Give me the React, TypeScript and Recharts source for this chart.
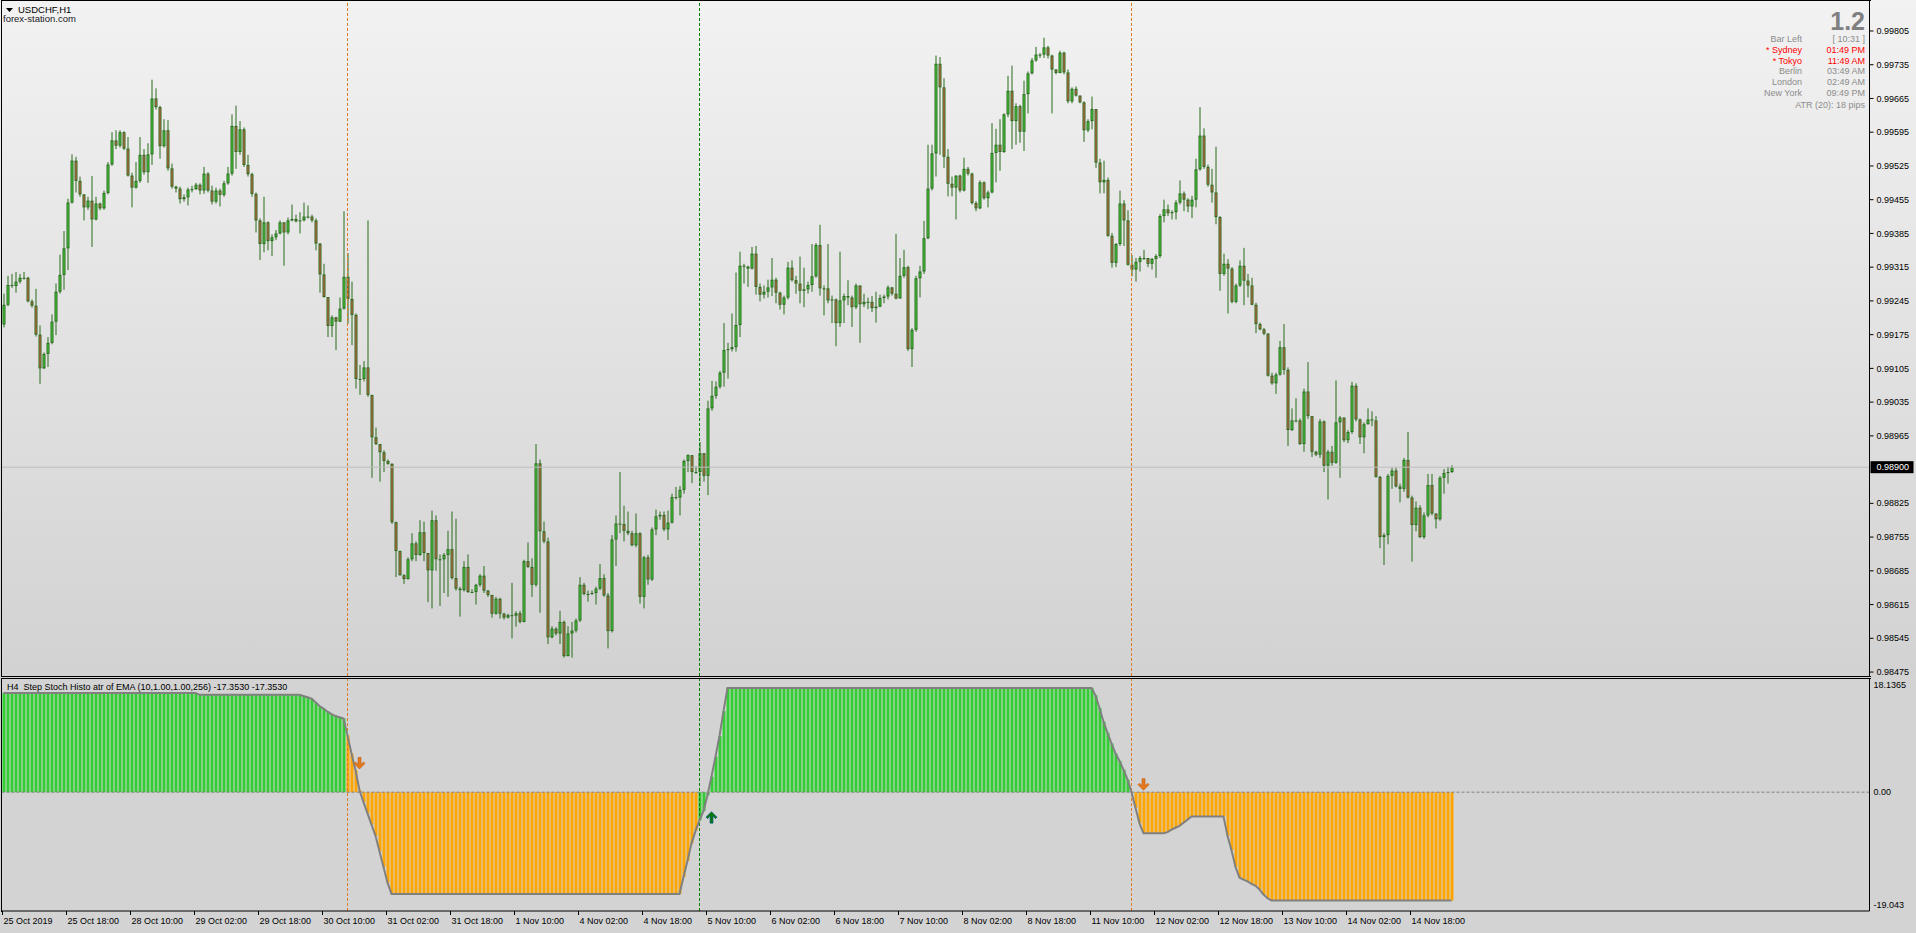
import React from 'react';
import { ComposedChart, Bar, Line, XAxis, YAxis, ReferenceLine, ReferenceDot } from 'recharts';

// USDCHF H1, prices in points (0.99237 -> 99237); open of a bar = previous close
const OPEN_FIRST = 99196;
const CLOSE = [
  99237, 99278, 99276, 99285, 99293, 99293, 99244, 99235, 99175, 99105,
  99135, 99158, 99202, 99264, 99299, 99354, 99449, 99536, 99494, 99466,
  99439, 99453, 99414, 99447, 99437, 99469, 99528, 99578, 99567, 99595,
  99561, 99505, 99480, 99494, 99548, 99512, 99549, 99665, 99647, 99566,
  99599, 99520, 99482, 99478, 99456, 99460, 99476, 99477, 99486, 99474,
  99509, 99474, 99451, 99474, 99465, 99489, 99509, 99608, 99554, 99601,
  99527, 99508, 99467, 99412, 99363, 99408, 99369, 99377, 99385, 99408,
  99387, 99412, 99415, 99410, 99412, 99420, 99420, 99412, 99364, 99300,
  99253, 99193, 99211, 99202, 99229, 99295, 99249, 99216, 99083, 99083,
  99107, 99050, 98962, 98948, 98931, 98913, 98907, 98786, 98726, 98676,
  98668, 98709, 98742, 98718, 98765, 98722, 98686, 98790, 98709, 98709,
  98718, 98730, 98670, 98648, 98645, 98693, 98641, 98641, 98656, 98675,
  98644, 98635, 98596, 98627, 98596, 98588, 98593, 98592, 98597, 98579,
  98705, 98693, 98656, 98908, 98767, 98746, 98547, 98565, 98555, 98579,
  98508, 98555, 98561, 98582, 98656, 98637, 98637, 98639, 98648, 98670,
  98634, 98560, 98750, 98783, 98782, 98768, 98763, 98738, 98763, 98631,
  98713, 98667, 98771, 98798, 98801, 98771, 98785, 98838, 98837, 98853,
  98913, 98925, 98890, 98890, 98929, 98882, 99022, 99048, 99067, 99096,
  99143, 99145, 99149, 99195, 99318, 99316, 99312, 99343, 99274, 99258,
  99264, 99273, 99289, 99262, 99237, 99252, 99314, 99288, 99281, 99266,
  99269, 99278, 99296, 99361, 99271, 99271, 99246, 99248, 99199, 99246,
  99255, 99252, 99232, 99277, 99238, 99243, 99243, 99230, 99233, 99251,
  99254, 99273, 99260, 99250, 99297, 99315, 99145, 99185, 99292, 99306,
  99375, 99478, 99551, 99737, 99688, 99544, 99488, 99480, 99505, 99474,
  99519, 99509, 99448, 99437, 99491, 99458, 99470, 99552, 99569, 99554,
  99632, 99681, 99618, 99649, 99596, 99674, 99717, 99744, 99756, 99756,
  99771, 99754, 99725, 99718, 99760, 99719, 99659, 99685, 99671, 99657,
  99599, 99618, 99643, 99532, 99491, 99496, 99380, 99324, 99363, 99447,
  99412, 99320, 99310, 99326, 99334, 99334, 99322, 99332, 99338, 99421,
  99435, 99427, 99429, 99449, 99468, 99455, 99441, 99455, 99518, 99588,
  99523, 99486, 99470, 99419, 99301, 99322, 99312, 99243, 99277, 99318,
  99287, 99277, 99237, 99197, 99186, 99177, 99090, 99074, 99092, 99149,
  99102, 98977, 98997, 98997, 98948, 99057, 99006, 98932, 98926, 98995,
  98903, 98932, 98909, 98993, 99003, 98956, 98973, 99069, 98999, 98962,
  98989, 98999, 98997, 98880, 98755, 98759, 98882, 98893, 98860, 98855,
  98915, 98837, 98780, 98816, 98755, 98800, 98863, 98804, 98792, 98878,
  98888, 98890, 98900,
];
const HIGH = [
  99260, 99297, 99301, 99305, 99301, 99305, 99295, 99248, 99270, 99194,
  99138, 99170, 99217, 99281, 99341, 99390, 99457, 99549, 99544, 99503,
  99466, 99461, 99504, 99461, 99449, 99474, 99533, 99595, 99599, 99599,
  99597, 99585, 99511, 99533, 99585, 99560, 99572, 99704, 99686, 99650,
  99622, 99620, 99530, 99484, 99482, 99466, 99480, 99484, 99490, 99489,
  99523, 99512, 99484, 99480, 99478, 99494, 99523, 99632, 99650, 99618,
  99605, 99548, 99511, 99470, 99416, 99461, 99410, 99383, 99392, 99412,
  99392, 99418, 99445, 99424, 99429, 99449, 99443, 99424, 99416, 99365,
  99322, 99252, 99215, 99212, 99252, 99431, 99344, 99285, 99219, 99112,
  99120, 99412, 99050, 98982, 98935, 98935, 98916, 98908, 98787, 98727,
  98678, 98713, 98763, 98746, 98790, 98787, 98722, 98810, 98800, 98719,
  98722, 98768, 98808, 98793, 98652, 98705, 98719, 98647, 98658, 98678,
  98695, 98645, 98635, 98631, 98629, 98598, 98596, 98660, 98601, 98602,
  98708, 98744, 98711, 98948, 98916, 98787, 98754, 98570, 98568, 98602,
  98582, 98570, 98579, 98586, 98672, 98660, 98644, 98644, 98652, 98699,
  98678, 98639, 98759, 98800, 98890, 98820, 98808, 98768, 98804, 98765,
  98716, 98718, 98775, 98812, 98808, 98808, 98810, 98845, 98859, 98861,
  98916, 98927, 98925, 98902, 98952, 98929, 99038, 99079, 99078, 99100,
  99199, 99158, 99219, 99304, 99347, 99322, 99318, 99357, 99359, 99281,
  99277, 99289, 99334, 99293, 99264, 99256, 99326, 99329, 99297, 99337,
  99314, 99285, 99363, 99365, 99403, 99277, 99363, 99256, 99250, 99347,
  99260, 99288, 99256, 99281, 99277, 99260, 99252, 99255, 99264, 99258,
  99258, 99277, 99274, 99384, 99334, 99351, 99318, 99189, 99297, 99318,
  99411, 99569, 99569, 99754, 99751, 99707, 99560, 99503, 99505, 99507,
  99542, 99523, 99511, 99452, 99495, 99493, 99474, 99614, 99602, 99622,
  99634, 99712, 99733, 99655, 99652, 99702, 99721, 99749, 99772, 99759,
  99791, 99774, 99756, 99726, 99764, 99762, 99725, 99688, 99690, 99671,
  99659, 99622, 99669, 99643, 99540, 99536, 99501, 99386, 99365, 99474,
  99454, 99433, 99340, 99334, 99338, 99351, 99334, 99334, 99342, 99425,
  99455, 99445, 99433, 99454, 99495, 99472, 99458, 99463, 99540, 99647,
  99603, 99528, 99519, 99565, 99421, 99343, 99332, 99315, 99281, 99329,
  99355, 99301, 99293, 99241, 99200, 99189, 99178, 99096, 99096, 99162,
  99197, 99107, 99022, 99043, 99001, 99063, 99118, 99006, 98934, 99000,
  98997, 98936, 98944, 99080, 99006, 98973, 98977, 99077, 99074, 99001,
  98993, 99022, 99016, 99006, 98882, 98763, 98886, 98899, 98899, 98866,
  98919, 98973, 98841, 98829, 98821, 98806, 98886, 98886, 98794, 98882,
  98896, 98901, 98904,
];
const LOW = [
  99190, 99234, 99272, 99262, 99281, 99289, 99242, 99231, 99171, 99073,
  99104, 99108, 99155, 99174, 99260, 99268, 99309, 99447, 99470, 99461,
  99412, 99434, 99357, 99412, 99433, 99434, 99466, 99525, 99560, 99563,
  99558, 99503, 99439, 99478, 99490, 99507, 99490, 99527, 99642, 99540,
  99563, 99515, 99478, 99470, 99447, 99451, 99443, 99470, 99475, 99466,
  99467, 99470, 99445, 99447, 99441, 99461, 99486, 99505, 99519, 99548,
  99523, 99503, 99461, 99387, 99330, 99346, 99350, 99338, 99371, 99383,
  99318, 99383, 99410, 99408, 99385, 99410, 99416, 99408, 99350, 99262,
  99252, 99170, 99170, 99143, 99201, 99227, 99198, 99153, 99063, 99050,
  99078, 99046, 98878, 98946, 98870, 98890, 98905, 98782, 98672, 98675,
  98658, 98667, 98705, 98705, 98716, 98705, 98620, 98607, 98685, 98612,
  98639, 98631, 98667, 98644, 98590, 98642, 98639, 98639, 98615, 98652,
  98639, 98631, 98588, 98594, 98586, 98584, 98586, 98545, 98569, 98576,
  98578, 98691, 98631, 98652, 98598, 98742, 98533, 98545, 98551, 98533,
  98505, 98508, 98505, 98557, 98579, 98634, 98621, 98635, 98615, 98645,
  98631, 98524, 98557, 98695, 98763, 98746, 98759, 98736, 98734, 98617,
  98607, 98656, 98664, 98759, 98791, 98767, 98749, 98783, 98833, 98800,
  98845, 98890, 98867, 98886, 98861, 98870, 98842, 99017, 99042, 99063,
  99067, 99084, 99140, 99140, 99170, 99281, 99274, 99310, 99258, 99244,
  99250, 99252, 99255, 99240, 99227, 99217, 99248, 99285, 99260, 99240,
  99232, 99260, 99264, 99293, 99256, 99215, 99240, 99199, 99151, 99191,
  99199, 99236, 99191, 99228, 99158, 99232, 99228, 99222, 99200, 99232,
  99240, 99248, 99256, 99248, 99256, 99293, 99141, 99108, 99181, 99252,
  99301, 99373, 99474, 99503, 99548, 99521, 99462, 99462, 99414, 99470,
  99472, 99505, 99445, 99431, 99435, 99455, 99439, 99468, 99491, 99515,
  99552, 99626, 99560, 99569, 99573, 99556, 99634, 99715, 99741, 99749,
  99749, 99748, 99634, 99715, 99717, 99715, 99655, 99655, 99669, 99655,
  99575, 99595, 99601, 99521, 99468, 99468, 99378, 99314, 99315, 99359,
  99359, 99318, 99296, 99285, 99306, 99330, 99315, 99310, 99293, 99334,
  99408, 99421, 99414, 99414, 99445, 99431, 99429, 99417, 99439, 99515,
  99519, 99482, 99449, 99404, 99266, 99297, 99219, 99240, 99240, 99274,
  99236, 99252, 99236, 99178, 99184, 99174, 99088, 99071, 99052, 99090,
  99092, 98944, 98975, 98993, 98946, 98932, 99000, 98921, 98923, 98919,
  98890, 98833, 98903, 98907, 98878, 98952, 98950, 98969, 98995, 98948,
  98929, 98989, 98985, 98878, 98732, 98697, 98740, 98855, 98858, 98827,
  98849, 98835, 98704, 98767, 98753, 98751, 98796, 98800, 98773, 98789,
  98845, 98866, 98888,
];

// Step Stoch histogram: [value, number of bars]
const IND_RUNS: [number, number][] = [
  [15.9, 49], [15.6, 26],
  [15.4, 1], [15.2, 1], [15.0, 1], [14.4, 1], [13.8, 1], [13.4, 1], [12.9, 1], [12.5, 1], [12.2, 1], [12.0, 1], [11.8, 1],
  [9.1, 1], [6.2, 1], [3.5, 1], [0.3, 1], [-1.6, 1], [-3.4, 1], [-5.2, 1], [-7.0, 1], [-9.5, 1], [-12.0, 1], [-14.5, 1],
  [-16.3, 73],
  [-13.6, 1], [-11.0, 1], [-8.2, 1], [-6.2, 1], [-4.5, 1], [-3.0, 1], [-0.5, 1], [2.5, 1], [5.7, 1], [9.0, 1], [13.0, 1],
  [16.7, 92],
  [15.5, 1], [13.5, 1], [11.3, 1], [9.5, 1], [7.8, 1], [6.2, 1], [5.0, 1], [3.6, 1], [2.0, 1], [0.0, 1], [-2.5, 1], [-5.0, 1],
  [-6.6, 6],
  [-6.4, 1], [-6.0, 1], [-5.7, 1], [-5.4, 1], [-4.9, 1], [-4.4, 1],
  [-3.9, 9],
  [-7.0, 1], [-9.3, 1], [-12.0, 1], [-13.7, 1], [-14.0, 1], [-14.3, 1], [-14.7, 1], [-15.0, 1], [-15.6, 1], [-16.4, 1], [-17.0, 1],
  [-17.353, 46],
];
// trend state (true = up / green), [state, number of bars]
const TREND_RUNS: [boolean, number][] = [[true, 86], [false, 88], [true, 108], [false, 81]];
const SIGNALS = [
  { i: 89, v: 4.6, up: false },
  { i: 177, v: -4.0, up: true },
  { i: 285, v: 1.2, up: false },
];
const SIGNAL_LINES = [
  { i: 86, color: '#E07B1F' },
  { i: 174, color: '#008000' },
  { i: 282, color: '#E07B1F' },
];

const PRICE_TICKS = [
  0.99805, 0.99735, 0.99665, 0.99595, 0.99525, 0.99455, 0.99385, 0.99315, 0.99245, 0.99175,
  0.99105, 0.99035, 0.98965, 0.98825, 0.98755, 0.98685, 0.98615, 0.98545, 0.98475,
];
const BID = 0.989;
const IND_MAX = 18.1365;
const IND_MIN = -19.043;
const TIME_LABELS = [
  '25 Oct 2019', '25 Oct 18:00', '28 Oct 10:00', '29 Oct 02:00', '29 Oct 18:00', '30 Oct 10:00',
  '31 Oct 02:00', '31 Oct 18:00', '1 Nov 10:00', '4 Nov 02:00', '4 Nov 18:00', '5 Nov 10:00',
  '6 Nov 02:00', '6 Nov 18:00', '7 Nov 10:00', '8 Nov 02:00', '8 Nov 18:00', '11 Nov 10:00',
  '12 Nov 02:00', '12 Nov 18:00', '13 Nov 10:00', '14 Nov 02:00', '14 Nov 18:00',
];
const BARS_PER_LABEL = 16;
const SESSIONS = [
  { name: 'Bar Left', time: '[ 10:31 ]', color: '#8C8C8C' },
  { name: '* Sydney', time: '01:49 PM', color: '#FF0000' },
  { name: '* Tokyo', time: '11:49 AM', color: '#FF0000' },
  { name: 'Berlin', time: '03:49 AM', color: '#8C8C8C' },
  { name: 'London', time: '02:49 AM', color: '#8C8C8C' },
  { name: 'New York', time: '09:49 PM', color: '#8C8C8C' },
];

const SLOTS = 467; // chart keeps empty space on the right
const FONT = '"Liberation Sans", Arial, sans-serif';
const WICK = '#2A6A1E';
const BULL = '#44D63C';
const BEAR = '#E0654A';
const W = 1916;
const AXIS_W = 46.5;

const indVals: number[] = [];
IND_RUNS.forEach(([v, n]) => { for (let k = 0; k < n; k++) indVals.push(v); });
const trendUp: boolean[] = [];
TREND_RUNS.forEach(([u, n]) => { for (let k = 0; k < n; k++) trendUp.push(u); });
const TIME_TICKS = TIME_LABELS.map((_, k) => k * BARS_PER_LABEL);

const rows = Array.from({ length: SLOTS }, (_, i) => {
  if (i >= CLOSE.length) return { idx: i, rng: null, v: null };
  const o = (i === 0 ? OPEN_FIRST : CLOSE[i - 1]) / 1e5;
  const c = CLOSE[i] / 1e5;
  const h = Math.max(HIGH[i] / 1e5, o, c);
  const l = Math.min(LOW[i] / 1e5, o, c);
  return { idx: i, o, h, l, c, rng: [l, h], v: indVals[i], up: trendUp[i] };
});

function Candle(props: any) {
  const { x, y, width, height, payload } = props;
  if (!payload || payload.c == null || y == null) return <g />;
  const top = Math.min(y, y + height);
  const bot = Math.max(y, y + height);
  const { o, h, l, c } = payload;
  const span = h - l || 1e-9;
  const py = (p: number) => top + ((h - p) / span) * (bot - top);
  const cx = x + width / 2;
  const bTop = py(Math.max(o, c));
  const bBot = py(Math.min(o, c));
  const bh = Math.max(bBot - bTop, 1);
  return (
    <g>
      <line x1={cx} x2={cx} y1={top} y2={bot} stroke={WICK} strokeWidth={1} />
      <rect x={x} y={bTop} width={width} height={bh} fill={WICK} />
      {bh > 2 && <rect x={x + 1} y={bTop + 1} width={width - 2} height={bh - 2} fill={c >= o ? BULL : BEAR} />}
    </g>
  );
}

function HistoBar(props: any) {
  const { x, y, width, height, payload } = props;
  if (!payload || payload.v == null || y == null) return <g />;
  const top = Math.min(y, y + height);
  return <rect x={x} y={top} width={width} height={Math.abs(height)} fill={payload.up ? '#32CD32' : '#FFA500'} />;
}

function Arrow({ cx, cy, up }: any) {
  if (cx == null || cy == null) return <g />;
  const pts = [[-1.5, -6], [1.5, -6], [1.5, 1], [4, -1.5], [5.5, 0], [0, 5.5], [-5.5, 0], [-4, -1.5], [-1.5, 1]];
  const d = pts.map(([px, py]) => `${cx + px},${cy + (up ? -py : py)}`).join(' ');
  return <polygon points={d} fill={up ? '#0A7A0A' : '#E87A1A'} stroke={up ? '#00509A' : '#B85A10'} strokeWidth={0.6} />;
}

function PriceTick(props: any) {
  const { y, payload } = props;
  const ax = W - AXIS_W;
  if (payload.value === BID) {
    return (
      <g>
        <rect x={ax + 1} y={y - 6} width={43} height={12} fill="#000" />
        <text x={ax + 7} y={y} dy="0.35em" fontSize={9} fontFamily={FONT} fill="#fff">{BID.toFixed(5)}</text>
      </g>
    );
  }
  return (
    <g>
      <line x1={ax} x2={ax + 4} y1={y} y2={y} stroke="#000" />
      <text x={ax + 7} y={y} dy="0.35em" fontSize={9} fontFamily={FONT} fill="#000">{payload.value.toFixed(5)}</text>
    </g>
  );
}

function IndTick(props: any) {
  const { y, payload } = props;
  const ax = W - AXIS_W;
  const v = payload.value;
  const label = v === IND_MAX ? '18.1365' : v === IND_MIN ? '-19.043' : '0.00';
  const dy = v === IND_MAX ? 6 : v === IND_MIN ? -6 : 0;
  return (
    <text x={ax + 4} y={y + dy} dy="0.35em" fontSize={9} fontFamily={FONT} fill="#000">{label}</text>
  );
}

function TimeTick(props: any) {
  const { x, payload } = props;
  const k = TIME_TICKS.indexOf(payload.value);
  const base = 233;
  return (
    <g>
      <line x1={x - 1} x2={x - 1} y1={base} y2={base + 4} stroke="#000" />
      <text x={x} y={base + 12.5} fontSize={9} fontFamily={FONT} fill="#000">{TIME_LABELS[k]}</text>
    </g>
  );
}

export default function App() {
  const txt: React.CSSProperties = { position: 'absolute', fontFamily: FONT, fontSize: 9, lineHeight: '11px', whiteSpace: 'pre' };
  return (
    <div style={{ position: 'absolute', left: 0, top: 0, width: W, height: 933, background: '#D3D3D3', overflow: 'hidden' }}>
      <div style={{ position: 'absolute', left: 0, top: 0, width: W, height: 677, background: 'linear-gradient(#F2F2F2, #D2D2D2)' }} />
      <div style={{ position: 'absolute', left: 0, top: 0 }}>
        <ComposedChart width={W} height={677} data={rows} margin={{ top: 1, right: 0, bottom: 1, left: 1.5 }}>
          <XAxis dataKey="idx" hide />
          <YAxis
            orientation="right" width={AXIS_W} type="number" domain={[0.984668, 0.998672]} allowDataOverflow
            ticks={[...PRICE_TICKS, BID]} interval={0} tick={<PriceTick />} tickLine={false} axisLine={{ stroke: '#000' }}
          />
          <ReferenceLine y={BID} stroke="#BDBDBD" />
          {SIGNAL_LINES.map((s) => (
            <ReferenceLine key={s.i} x={s.i} stroke={s.color} strokeDasharray="3 2" />
          ))}
          <Bar dataKey="rng" barSize={3} shape={Candle} isAnimationActive={false} />
        </ComposedChart>
      </div>
      <div style={{ position: 'absolute', left: 0, top: 678 }}>
        <ComposedChart width={W} height={255} data={rows} margin={{ top: 1, right: 0, bottom: 0, left: 1.5 }}>
          <XAxis dataKey="idx" ticks={TIME_TICKS} interval={0} height={22} tick={<TimeTick />} tickLine={false} axisLine={{ stroke: '#000' }} />
          <YAxis
            orientation="right" width={AXIS_W} type="number" domain={[IND_MIN, IND_MAX]} allowDataOverflow
            ticks={[IND_MAX, 0, IND_MIN]} interval={0} tick={<IndTick />} tickLine={false} axisLine={{ stroke: '#000' }}
          />
          {SIGNAL_LINES.map((s) => (
            <ReferenceLine key={s.i} x={s.i} stroke={s.color} strokeDasharray="3 2" />
          ))}
          <Bar dataKey="v" barSize={3} shape={HistoBar} isAnimationActive={false} />
          <ReferenceLine y={0} stroke="#808080" strokeDasharray="3 2" />
          <Line dataKey="v" type="linear" stroke="#808080" strokeWidth={2} dot={false} activeDot={false} isAnimationActive={false} />
          {SIGNALS.map((s) => (
            <ReferenceDot key={s.i} x={s.i} y={s.v} r={6} ifOverflow="visible" shape={(p: any) => <Arrow cx={p.cx} cy={p.cy} up={s.up} />} />
          ))}
        </ComposedChart>
      </div>
      {/* window frames */}
      <div style={{ position: 'absolute', left: 1, top: 0, width: 1869, height: 675, borderTop: '1px solid #000', borderLeft: '1px solid #000', borderBottom: '1px solid #000', pointerEvents: 'none' }} />
      <div style={{ position: 'absolute', left: 1, top: 678, width: 1869, height: 233, borderTop: '1px solid #000', borderLeft: '1px solid #000', pointerEvents: 'none' }} />
      {/* header */}
      <svg style={{ position: 'absolute', left: 0, top: 0 }} width={16} height={16}>
        <polygon points="6,8 13,8 9.5,12" fill="#000" />
      </svg>
      <div style={{ ...txt, left: 18, top: 4.5, fontSize: 9.5, lineHeight: '9px', color: '#000' }}>USDCHF,H1</div>
      <div style={{ ...txt, left: 3, top: 13.5, fontSize: 9.5, lineHeight: '9px', color: '#1A1A2A' }}>forex-station.com</div>
      <div style={{ ...txt, left: 7, top: 682, color: '#000' }}>{'H4  Step Stoch Histo atr of EMA (10,1.00,1.00,256) -17.3530 -17.3530'}</div>
      {/* info panel */}
      <div style={{ ...txt, right: W - 1865, top: 9, fontSize: 25, lineHeight: '25px', fontWeight: 'bold', color: '#808080' }}>1.2</div>
      {SESSIONS.map((s, k) => (
        <React.Fragment key={s.name}>
          <div style={{ ...txt, right: W - 1802, top: 33.6 + k * 10.95, color: s.color }}>{s.name}</div>
          <div style={{ ...txt, right: W - 1865, top: 33.6 + k * 10.95, color: s.color }}>{s.time}</div>
        </React.Fragment>
      ))}
      <div style={{ ...txt, right: W - 1865, top: 100, color: '#8C8C8C' }}>ATR (20): 18 pips</div>
    </div>
  );
}
